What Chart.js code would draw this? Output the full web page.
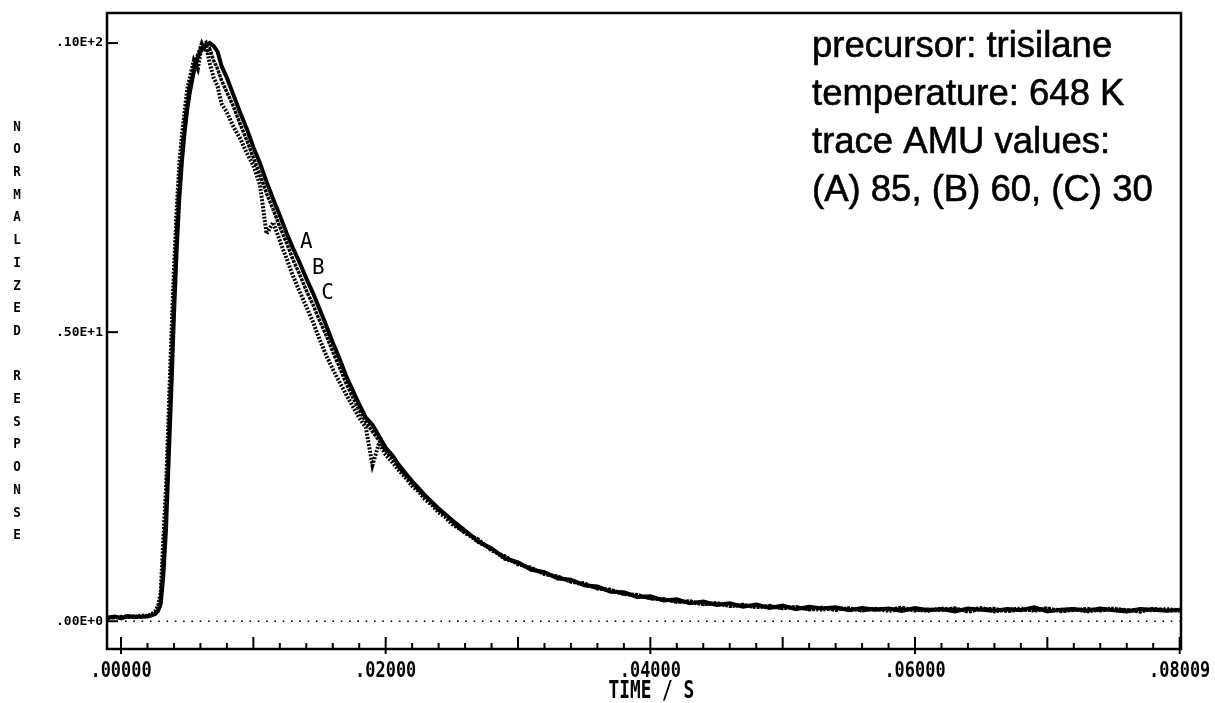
<!DOCTYPE html>
<html>
<head>
<meta charset="utf-8">
<title>Normalized response – trisilane, 648 K</title>
<script src="https://cdn.jsdelivr.net/npm/chart.js@4/dist/chart.umd.min.js"></script>
<style>
  html, body { margin: 0; padding: 0; background: #fff; }
  #wrap { width: 1215px; height: 703px; }
</style>
</head>
<body>
<div id="wrap"><canvas id="trace" width="1215" height="703"></canvas></div>
<script>
// sample times (s)
const times = [
  -0.001, -0.0005, 0, 0.0005, 0.001, 0.0015, 0.002, 0.0023, 0.0026, 0.0028,
  0.003, 0.0032, 0.0034, 0.0036, 0.0038, 0.004, 0.0042, 0.0044, 0.0046, 0.0048,
  0.005, 0.0052, 0.0055, 0.0058, 0.0061, 0.0064, 0.0067, 0.007, 0.0073, 0.0076,
  0.008, 0.0085, 0.009, 0.0095, 0.010, 0.0105, 0.011, 0.0115, 0.012, 0.0125,
  0.013, 0.0135, 0.014, 0.0145, 0.015, 0.0155, 0.016, 0.0165, 0.017, 0.0175,
  0.018, 0.0185, 0.019, 0.0195, 0.020, 0.0205, 0.021, 0.0215, 0.022, 0.0225,
  0.023, 0.0235, 0.024, 0.0245, 0.025, 0.026, 0.027, 0.028, 0.029, 0.030,
  0.031, 0.032, 0.033, 0.034, 0.035, 0.036, 0.037, 0.038, 0.039, 0.040,
  0.041, 0.042, 0.043, 0.044, 0.045, 0.046, 0.047, 0.048, 0.049, 0.050,
  0.051, 0.052, 0.053, 0.054, 0.055, 0.056, 0.057, 0.058, 0.059, 0.060,
  0.061, 0.062, 0.063, 0.064, 0.065, 0.066, 0.067, 0.068, 0.069, 0.070,
  0.071, 0.072, 0.073, 0.074, 0.075, 0.076, 0.077, 0.078, 0.079, 0.080
];

// (A) AMU 85
const traceA = [
  0.06, 0.08, 0.05, 0.09, 0.07, 0.08, 0.08, 0.10, 0.13, 0.18,
  0.30, 0.80, 1.60, 2.80, 4.00, 5.30, 6.40, 7.30, 7.95, 8.45,
  8.85, 9.15, 9.50, 9.75, 9.90, 9.95, 10.0, 9.95, 9.85, 9.60,
  9.40, 9.10, 8.80, 8.52, 8.20, 7.92, 7.60, 7.30, 7.02, 6.72,
  6.45, 6.20, 5.93, 5.68, 5.40, 5.12, 4.82, 4.55, 4.25, 4.00,
  3.75, 3.52, 3.40, 3.20, 3.00, 2.87, 2.70, 2.56, 2.42, 2.30,
  2.17, 2.06, 1.95, 1.85, 1.75, 1.57, 1.38, 1.26, 1.09, 1.02,
  0.89, 0.85, 0.74, 0.72, 0.62, 0.60, 0.51, 0.50, 0.42, 0.43,
  0.36, 0.38, 0.31, 0.34, 0.28, 0.31, 0.25, 0.29, 0.23, 0.27,
  0.21, 0.25, 0.22, 0.24, 0.19, 0.23, 0.20, 0.22, 0.18, 0.23,
  0.19, 0.21, 0.17, 0.22, 0.20, 0.18, 0.21, 0.19, 0.24, 0.17,
  0.20, 0.21, 0.18, 0.22, 0.19, 0.17, 0.21, 0.20, 0.18, 0.20
];

// (B) AMU 60
const traceB = [
  0.07, 0.06, 0.08, 0.07, 0.09, 0.07, 0.09, 0.11, 0.15, 0.22,
  0.40, 1.10, 1.95, 3.20, 4.45, 5.70, 6.75, 7.60, 8.15, 8.60,
  9.00, 9.30, 9.60, 9.80, 10.0, 9.85, 9.90, 9.70, 9.55, 9.35,
  9.15, 8.90, 8.60, 8.32, 8.02, 7.72, 7.40, 7.12, 6.82, 6.55,
  6.25, 6.00, 5.72, 5.48, 5.20, 4.95, 4.66, 4.40, 4.12, 3.88,
  3.65, 3.45, 3.28, 3.12, 2.95, 2.82, 2.66, 2.52, 2.38, 2.27,
  2.14, 2.03, 1.92, 1.83, 1.72, 1.52, 1.42, 1.22, 1.13, 0.98,
  0.93, 0.81, 0.78, 0.68, 0.66, 0.56, 0.55, 0.47, 0.46, 0.39,
  0.39, 0.33, 0.35, 0.29, 0.32, 0.26, 0.29, 0.24, 0.27, 0.22,
  0.25, 0.20, 0.24, 0.19, 0.23, 0.18, 0.22, 0.20, 0.24, 0.18,
  0.21, 0.19, 0.23, 0.16, 0.21, 0.22, 0.17, 0.20, 0.19, 0.23,
  0.17, 0.19, 0.22, 0.18, 0.21, 0.20, 0.16, 0.22, 0.19, 0.18
];

// (C) AMU 30
const traceC = [
  0.05, 0.08, 0.06, 0.09, 0.07, 0.10, 0.09, 0.12, 0.18, 0.27,
  0.50, 1.45, 2.30, 3.60, 4.90, 6.10, 7.10, 7.90, 8.40, 8.80,
  9.20, 9.40, 9.70, 9.55, 9.95, 10.0, 9.65, 9.40, 9.25, 8.95,
  8.80, 8.55, 8.35, 8.10, 7.88, 7.55, 6.70, 6.90, 6.58, 6.28,
  5.97, 5.70, 5.44, 5.18, 4.88, 4.60, 4.36, 4.14, 3.93, 3.72,
  3.52, 3.35, 2.70, 3.08, 2.88, 2.75, 2.61, 2.48, 2.34, 2.24,
  2.10, 2.01, 1.88, 1.80, 1.68, 1.54, 1.37, 1.25, 1.08, 1.01,
  0.90, 0.83, 0.76, 0.69, 0.63, 0.58, 0.53, 0.47, 0.45, 0.40,
  0.37, 0.35, 0.32, 0.30, 0.30, 0.27, 0.27, 0.25, 0.25, 0.23,
  0.24, 0.21, 0.20, 0.23, 0.21, 0.19, 0.21, 0.18, 0.21, 0.20,
  0.18, 0.22, 0.20, 0.19, 0.23, 0.17, 0.20, 0.22, 0.18, 0.21,
  0.19, 0.21, 0.17, 0.20, 0.22, 0.18, 0.20, 0.19, 0.21, 0.19
];

const traceNames = ['A', 'B', 'C'];
// where each trace letter sits (time, response)
const traceLabelAt = [[0.0140, 6.56], [0.0149, 6.11], [0.0156, 5.67]];

const xTickValues = [0, 0.02, 0.04, 0.06, 0.08];
const xTickLabels = ['.00000', '.02000', '.04000', '.06000', '.08009'];
const yTickValues = [0, 5, 10];
const yTickLabels = ['.00E+0', '.50E+1', '.10E+2'];
const baselineSpan = [0.0003, 0.08];

const xTitle = 'TIME / S';
const yTitle = 'NORMALIZED RESPONSE';
const infoLines = [
  'precursor: trisilane',
  'temperature: 648 K',
  'trace AMU values:',
  '(A) 85, (B) 60, (C) 30'
];

const pts = (ys) => times.map((t, i) => ({ x: t, y: ys[i] }));

// squeezed text, centred on (cx, cy) unless align says otherwise
function plotText(ctx, str, cx, cy, font, sx, align, weight) {
  ctx.save();
  ctx.translate(cx, cy);
  ctx.scale(sx, 1);
  ctx.font = font;
  ctx.textAlign = align || 'center';
  ctx.textBaseline = 'middle';
  ctx.fillText(str, 0, 0);
  if (weight) {
    ctx.lineWidth = weight;
    ctx.strokeText(str, 0, 0);
  }
  ctx.restore();
}

const plotterAxes = {
  id: 'plotterAxes',
  afterDatasetsDraw(chart) {
    const { ctx, chartArea: a, scales: { x, y } } = chart;
    ctx.save();
    ctx.strokeStyle = '#000';
    ctx.fillStyle = '#000';
    ctx.lineCap = 'butt';

    // frame
    ctx.lineWidth = 2.5;
    ctx.strokeRect(a.left, a.top, a.right - a.left, a.bottom - a.top);

    // x ticks: minor every 0.002, longer every 0.01, through the axis every 0.02
    ctx.lineWidth = 2;
    for (let i = 0; i <= 40; i++) {
      const px = x.getPixelForValue(i * 0.002);
      const major = i % 10 === 0;
      const mid = i % 5 === 0;
      ctx.beginPath();
      ctx.moveTo(px, a.bottom + (major ? 5 : 0));
      ctx.lineTo(px, a.bottom - (mid ? 12 : 6));
      ctx.stroke();
    }

    // y ticks
    yTickValues.forEach((v) => {
      const py = y.getPixelForValue(v);
      ctx.beginPath();
      ctx.moveTo(a.left, py);
      ctx.lineTo(a.left + 11, py);
      ctx.stroke();
    });

    // tick labels
    xTickValues.forEach((v, i) => {
      plotText(ctx, xTickLabels[i], x.getPixelForValue(v), a.bottom + 22,
        'bold 22px "DejaVu Sans Mono"', 0.77);
    });
    yTickValues.forEach((v, i) => {
      plotText(ctx, yTickLabels[i], a.left - 4, y.getPixelForValue(v),
        'bold 13px "DejaVu Sans Mono"', 1.0, 'right');
    });

    // axis titles
    plotText(ctx, xTitle, (x.getPixelForValue(0.04) + 1), a.bottom + 43,
      'bold 24px "DejaVu Sans Mono"', 0.74);
    const step = 22.7;
    const y0 = 127;
    [...yTitle].forEach((ch, i) => {
      if (ch !== ' ') plotText(ctx, ch, 17, y0 + i * step, 'bold 14px "DejaVu Sans Mono"', 0.9);
    });

    // trace letters
    traceNames.forEach((n, i) => {
      const [t, v] = traceLabelAt[i];
      plotText(ctx, n, x.getPixelForValue(t), y.getPixelForValue(v),
        '22px "DejaVu Sans Mono"', 0.95);
    });

    // run conditions
    infoLines.forEach((line, i) => {
      plotText(ctx, line, 812, 47 + i * 48, '36.5px "Liberation Sans", Arial, sans-serif', 1, 'left', 0.6);
    });
    ctx.restore();
  }
};

const traceStyle = {
  borderColor: '#000',
  pointRadius: 0,
  tension: 0,
  fill: false
};

new Chart(document.getElementById('trace'), {
  type: 'line',
  data: {
    datasets: [
      { label: 'A', data: pts(traceA), ...traceStyle, borderWidth: 4 },
      { label: 'B', data: pts(traceB), ...traceStyle, borderWidth: 3.5, borderDash: [3, 1] },
      { label: 'C', data: pts(traceC), ...traceStyle, borderWidth: 4, borderDash: [2, 1.5] },
      {
        label: 'zero',
        data: baselineSpan.map((t) => ({ x: t, y: 0 })),
        ...traceStyle,
        borderWidth: 1.6,
        borderDash: [1.6, 6.7]
      }
    ]
  },
  options: {
    responsive: false,
    animation: false,
    layout: { padding: { top: 13, right: 34, left: 0, bottom: 0 } },
    plugins: { legend: { display: false }, tooltip: { enabled: false } },
    scales: {
      x: {
        type: 'linear',
        min: -0.00106,
        max: 0.0801,
        grid: { display: false },
        border: { display: false },
        ticks: { display: false },
        afterFit: (s) => { s.height = 54; }
      },
      y: {
        type: 'linear',
        min: -0.48,
        max: 10.52,
        grid: { display: false },
        border: { display: false },
        ticks: { display: false },
        afterFit: (s) => { s.width = 107; }
      }
    }
  },
  plugins: [plotterAxes]
});
</script>
</body>
</html>
